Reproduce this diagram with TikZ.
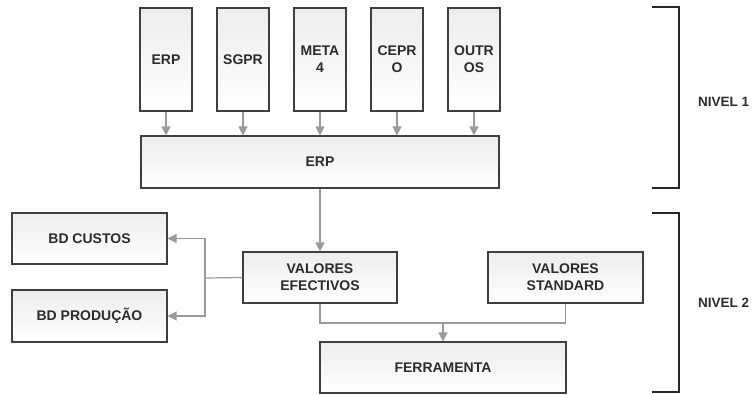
\documentclass[tikz,border=0pt]{standalone}
\usepackage{fontspec}
\setmainfont{Liberation Sans}
\usepackage{xcolor}
\usetikzlibrary{arrows.meta,positioning}

\definecolor{boxline}{HTML}{3F3F3F}
\definecolor{linkgray}{HTML}{9A9A9A}
\definecolor{txtgray}{HTML}{2B2B2B}

\tikzset{
    blk/.style={draw=boxline, line width=1.1pt, top color=gray!14, bottom color=white,
        align=center, text=txtgray, font=\fontsize{14}{17}\selectfont\bfseries,
        inner sep=0pt},
    link/.style={draw=linkgray, line width=1.2pt},
    arr/.style={link, -{Triangle[width=9pt,length=9pt]}},
    brk/.style={draw=black!85, line width=2pt},
    lvl/.style={anchor=west, inner sep=0pt, text=txtgray, font=\fontsize{13.5}{16}\selectfont\bfseries}
}

\begin{document}
\begin{tikzpicture}[x=1pt, y=-1pt]
    \useasboundingbox (0,0) rectangle (753,394);

    % nivel 1
    \foreach \name/\lab [count=\i from 0] in {erpa/ERP, sgpr/SGPR, meta/META\\4, cepro/CEPR\\O, outros/OUTR\\OS}
        \node[blk, minimum width=52pt, minimum height=103pt] (\name) at (166+77*\i, 59.5) {\lab};
    \node[blk, minimum width=358pt, minimum height=52pt] (erp) at (320,162) {ERP};
    \foreach \name in {erpa, sgpr, meta, cepro, outros}
        \draw[arr] (\name.south) -- (\name.south |- erp.north);

    % nivel 2
    \node[blk, minimum width=154pt, minimum height=51pt] (efect) at (320,277.5) {VALORES\\EFECTIVOS};
    \node[blk, minimum width=155pt, minimum height=51pt] (std) at (565.5,277.5) {VALORES\\STANDARD};
    \node[blk, minimum width=155pt, minimum height=51pt] (custos) at (89.5,238.5) {BD CUSTOS};
    \node[blk, minimum width=155pt, minimum height=52pt] (prod) at (89.5,316) {BD PRODUÇÃO};
    \node[blk, minimum width=246pt, minimum height=51pt] (ferr) at (443,367.5) {FERRAMENTA};

    \draw[arr] (erp.south) -- (efect.north);

    \coordinate (split) at (205,278);
    \draw[link] (efect.west) -- (split);
    \draw[arr] (split) |- (custos.east);
    \draw[arr] (split) |- (prod.east);

    \coordinate (join) at (443,323);
    \draw[link] (efect.south) |- (join) -| (std.south);
    \draw[arr] (join) -- (ferr.north);

    % niveis
    \draw[brk] (652,7) -- (679,7) -- (679,188) -- (652,188);
    \draw[brk] (652,213) -- (679,213) -- (679,392) -- (652,392);
    \node[lvl] (n1) at (698,102) {NIVEL 1};
    \node[lvl] (n2) at (698,303) {NIVEL 2};
\end{tikzpicture}
\end{document}
